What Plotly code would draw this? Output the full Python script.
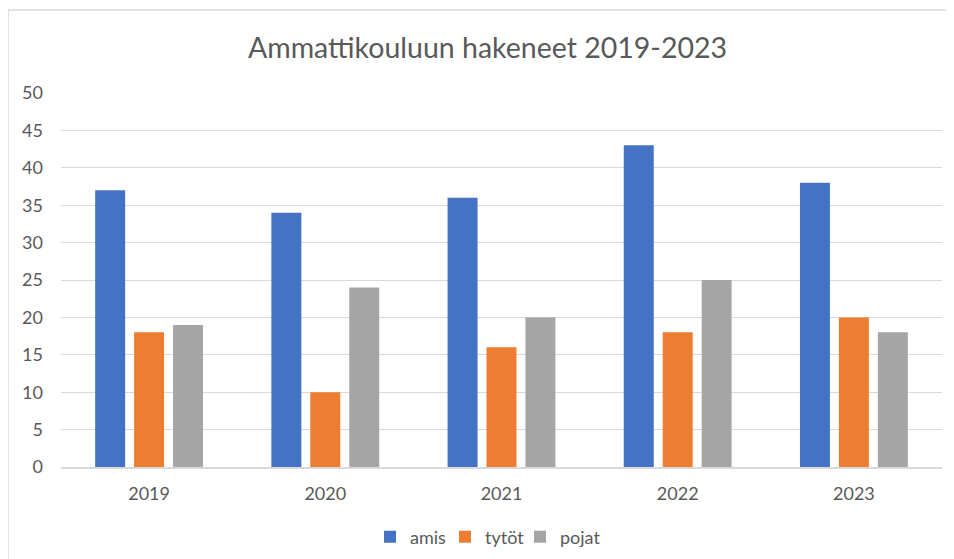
import plotly.graph_objects as go

years = ["2019", "2020", "2021", "2022", "2023"]
amis = [37, 34, 36, 43, 38]
tytot = [18, 10, 16, 18, 20]
pojat = [19, 24, 20, 25, 18]
series_names = ["amis", "tytöt", "pojat"]
colors = ["#4472C4", "#ED7D31", "#A5A5A5"]

# page body has an 8px margin, so the figure starts at (8, 8)
OFF = 8
W, H = 954 - OFF, 559 - OFF
L, R = 61 - OFF, 12
T = 93 - OFF
ph = 374
B = H - T - ph
pw = W - L - R

fig = go.Figure()
for name, vals, c in zip(series_names, [amis, tytot, pojat], colors):
    fig.add_trace(go.Bar(x=years, y=vals, name=name, marker_color=c,
                         marker_line_width=0))
# empty, invisible legend spacer so the last legend label is not clipped
fig.add_trace(go.Scatter(x=[None], y=[None], name=" ", mode="markers",
                         marker=dict(color="rgba(0,0,0,0)", size=1,
                                     line=dict(width=0)),
                         showlegend=True, hoverinfo="skip"))

font = "Lato, Open Sans, sans-serif"
fig.update_layout(
    width=W, height=H,
    margin=dict(l=L, r=R, t=T, b=B, autoexpand=False),
    paper_bgcolor="white", plot_bgcolor="white",
    barmode="group", bargap=0.337, bargroupgap=0.23,
    title=dict(text="Ammattikouluun hakeneet 2019-2023",
               font=dict(family=font, size=28.5, color="#595959"),
               x=(487.5 - OFF) / W, xanchor="center",
               y=1 - (48 - OFF) / H, yanchor="middle"),
    font=dict(family=font, size=18, color="#595959"),
    showlegend=True,
    legend=dict(orientation="h", x=(520 - 61) / pw, xanchor="center",
                y=-(537 - 467) / ph, yanchor="middle",
                font=dict(size=18, color="#595959"),
                itemwidth=30, entrywidth=30, entrywidthmode="pixels",
                traceorder="normal"),
    xaxis=dict(showgrid=False, showline=True, linecolor="#D9D9D9", linewidth=1.5,
               ticks="", ticklabelstandoff=10, tickfont=dict(size=18, color="#595959")),
    yaxis=dict(range=[0, 50], dtick=5, showgrid=True, gridcolor="#D9D9D9",
               gridwidth=1.3, zeroline=False, showline=False, ticks="",
               ticklabelstandoff=17, tickfont=dict(size=18, color="#595959")),
)

# outer chart frame (top and left edges visible)
frame = dict(color="#D9D9D9", width=1.5)
fig.add_shape(type="line", xref="paper", yref="paper",
              x0=(8 - 61) / pw, x1=(W + 5 - L) / pw,
              y0=1 + (T - 2) / ph, y1=1 + (T - 2) / ph, line=frame, layer="below")
fig.add_shape(type="line", xref="paper", yref="paper",
              x0=(8 - 61) / pw, x1=(8 - 61) / pw,
              y0=1 + (T - 2) / ph, y1=-(B + 5) / ph, line=frame, layer="below")

fig.write_html("out.html")
